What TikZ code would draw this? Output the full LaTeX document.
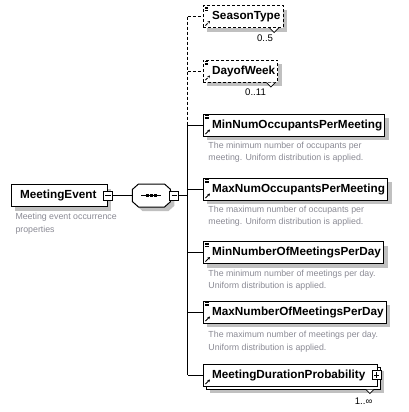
\documentclass[tikz,border=0pt]{standalone}
\usepackage{fontspec}
\setmainfont{Liberation Sans}
\usetikzlibrary{positioning,calc,shadows,arrows.meta}
\definecolor{descgray}{RGB}{138,138,148}
\definecolor{shadowgray}{RGB}{192,192,192}

\newcommand\listicon{\foreach \yy in {1.5,3,4.5}
  \draw[line width=0.5pt] ([shift={(1.5,\yy)}]path picture bounding box.north west) -- ++(4.5,0);}
\newcommand\arrowicon{\draw[line width=0.6pt,-{Stealth[length=2pt,width=2.2pt]}]
  ([shift={(2,-2)}]path picture bounding box.south west) -- ++(4.5,-4.5);}

\tikzset{
  box/.style={draw, fill=white, anchor=west, inner xsep=2pt, minimum height=16.5pt,
    text height=6.6pt, text depth=1.9pt,
    font=\fontsize{8.8}{10}\selectfont\bfseries,
    execute at begin node={\hspace*{4.5pt}}},
  shade box/.style={general shadow={fill=shadowgray, shadow xshift=3pt, shadow yshift=-3pt}},
  elem/.style={box, shade box},
  ref/.style={elem, path picture={\listicon\arrowicon}},
  opt/.style={ref, dash pattern=on 2.25pt off 1.5pt},
  multi/.style={box, path picture={\arrowicon},
    general shadow={fill=shadowgray, shadow xshift=5.25pt, shadow yshift=-5.25pt},
    general shadow={draw=black, fill=white, shadow xshift=2.25pt, shadow yshift=-2.25pt}},
  padr/.style={execute at end node={\hspace*{#1}}},
  tgl/.style={draw, fill=white, minimum size=6.75pt, inner sep=0pt, line width=0.6pt},
  minus/.style={tgl, path picture={\draw ([xshift=1.3pt]path picture bounding box.west)
    -- ([xshift=-1.3pt]path picture bounding box.east);}},
  plus/.style={tgl, path picture={\draw ([xshift=1.3pt]path picture bounding box.west)
    -- ([xshift=-1.3pt]path picture bounding box.east);
    \draw ([yshift=-1.3pt]path picture bounding box.north) -- ([yshift=1.3pt]path picture bounding box.south);}},
  seq/.style={minimum width=27.75pt, minimum height=16.5pt, inner sep=0pt},
  desc/.style={text=descgray, align=left, inner sep=0pt, font=\fontsize{6.6}{9.3}\selectfont},
  card/.style={inner sep=0pt, font=\fontsize{7.2}{8}\selectfont},
  notch/.style={draw, fill=white, line width=0.6pt}
}

\begin{document}
\begin{tikzpicture}[x=0.75pt, y=-0.75pt, line width=0.75pt]
  \useasboundingbox (0,0) rectangle (409,412);
  % root and sequence
  \node[elem, padr=6.25pt] (me) at (11,195.5) {MeetingEvent};
  \node[minus] (me-m) at (me.east) {};
  \node[desc, below right=4.5pt and 3pt of me.south west] (me-d) {Meeting event occurrence\\properties};
  \node[seq] (seq) at (151.5,195.5) {};
  \draw[fill=white, shade box] ([xshift=4.5pt]seq.north west) -- ([xshift=-4.5pt]seq.north east)
    -- ([yshift=-4pt]seq.north east) -- ([yshift=4pt]seq.south east) -- ([xshift=-4.5pt]seq.south east)
    -- ([xshift=4.5pt]seq.south west) -- ([yshift=4pt]seq.south west) -- ([yshift=-4pt]seq.north west) -- cycle;
  \draw ([xshift=-7.5pt]seq.center) -- ([xshift=7.5pt]seq.center);
  \foreach \xx in {-3,0,3}
    \fill[black] ([xshift=\xx pt]seq.center) +(-1.2pt,-1.2pt) rectangle +(1.2pt,1.2pt);
  \node[minus, anchor=west] (seq-m) at ([xshift=-0.75pt]seq.east) {};
  \coordinate (bus) at (188,195.5);
  \draw (me-m.east) -- (seq.west);
  \draw (seq-m.east) -- (bus);

  % children
  \node[opt] (st) at (203,16.5) {SeasonType};
  \node[opt] (dw) at (203,71) {DayofWeek};
  \node[ref] (minocc) at (203,125) {MinNumOccupantsPerMeeting};
  \node[ref] (maxocc) at (203,189) {MaxNumOccupantsPerMeeting};
  \node[ref] (minmpd) at (203,252.5) {MinNumberOfMeetingsPerDay};
  \node[ref] (maxmpd) at (203,312) {MaxNumberOfMeetingsPerDay};
  \node[multi, padr=7pt] (mdp) at (203,375) {MeetingDurationProbability};
  \node[plus] (mdp-p) at ([xshift=-1pt]mdp.east) {};

  \node[desc, below right=3.5pt and 3.75pt of minocc.south west] {The minimum number of occupants per\\meeting. Uniform distribution is applied.};
  \node[desc, below right=3.5pt and 3.75pt of maxocc.south west] {The maximum number of occupants per\\meeting. Uniform distribution is applied.};
  \node[desc, below right=4pt and 3.75pt of minmpd.south west] {The minimum number of meetings per day.\\Uniform distribution is applied.};
  \node[desc, below right=5.5pt and 3.75pt of maxmpd.south west] {The maximum number of meetings per day.\\Uniform distribution is applied.};

  % cardinalities
  \draw[notch] ($(st.south east)+(-14,0)$) -- ++(4.5,4.5) -- ++(4.5,-4.5);
  \draw[notch] ($(dw.south east)+(-12,0)$) -- ++(4.5,4.5) -- ++(4.5,-4.5);
  \draw[notch] ($(mdp.south east)+(-12,3)$) -- ++(4,4) -- ++(4,-4);
  \node[card, anchor=north east] at ($(st.south east)+(-10,6)$) {0..5};
  \node[card, anchor=north east] at ($(dw.south east)+(-12,6)$) {0..11};
  \node[card, anchor=north east] at ($(mdp.south east)+(-5,11)$) {1..∞};

  % connectors
  \draw[dash pattern=on 2.25pt off 1.5pt] (bus |- st.west) -- (bus |- minocc.west);
  \draw (bus |- minocc.west) -- (bus |- mdp.west);
  \draw[dash pattern=on 2.25pt off 1.5pt] (bus |- st.west) -- (st.west);
  \draw[dash pattern=on 2.25pt off 1.5pt] (bus |- dw.west) -- (dw.west);
  \foreach \n in {minocc,maxocc,minmpd,maxmpd,mdp}
    \draw (bus |- \n.west) -- (\n.west);
\end{tikzpicture}
\end{document}
